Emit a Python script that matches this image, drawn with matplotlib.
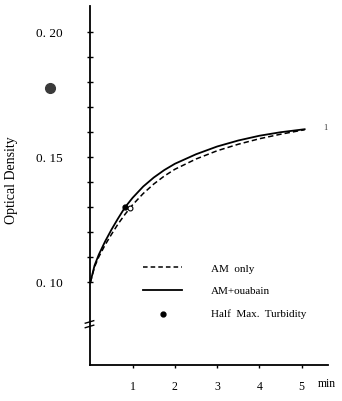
import matplotlib
matplotlib.use("Agg")
import matplotlib.pyplot as plt
from matplotlib.lines import Line2D

plt.rcParams['font.family'] = ['Liberation Serif', 'DejaVu Serif']

# Data
time_min = [0, 0.1, 0.2, 0.35, 0.5, 0.65, 0.82, 1.0, 1.25, 1.5, 1.75, 2.0,
            2.5, 3.0, 3.5, 4.0, 4.5, 5.07]
od_ouabain = [0.1000, 0.1068, 0.1111, 0.1164, 0.1211, 0.1254, 0.1300, 0.1338,
              0.1383, 0.1419, 0.1449, 0.1474, 0.1512, 0.1543, 0.1567, 0.1586,
              0.1600, 0.1612]
od_am_only = [0.1000, 0.1062, 0.1102, 0.1150, 0.1192, 0.1232, 0.1272, 0.1310,
              0.1355, 0.1393, 0.1425, 0.1452, 0.1493, 0.1526, 0.1552, 0.1574,
              0.1592, 0.1610]
half_max_solid = (0.82, 0.130)
half_max_open = (0.93, 0.1297)
yticks = [0.10, 0.11, 0.12, 0.13, 0.14, 0.15, 0.16, 0.17, 0.18, 0.19, 0.20]
ytick_labels = ['0. 10', '', '', '', '', '0. 15', '', '', '', '', '0. 20']
xticks = [1, 2, 3, 4, 5]
xtick_labels = ['1', '2', '3', '4', '5']
legend_labels = ['AM  only', 'AM+ouabain', 'Half  Max.  Turbidity']

fig = plt.figure(figsize=(3.42, 4.01), dpi=100)
ax = fig.add_axes([0.2617, 0.0898, 0.697, 0.895])
ax.set_xlim(-0.02, 5.62)
ax.set_ylim(0.067, 0.2104)

for s in ['top', 'right']:
    ax.spines[s].set_visible(False)
for s in ['left', 'bottom']:
    ax.spines[s].set_linewidth(1.3)

ax.plot(time_min, od_am_only, color='black', lw=1.1, ls=(0, (3.5, 2)))
ax.plot(time_min, od_ouabain, color='black', lw=1.3)
ax.plot(*half_max_solid, 'o', color='black', ms=3.5)
ax.plot(*half_max_open, 'o', mfc='white', mec='black', ms=3.5, mew=0.8)

ax.set_yticks(yticks)
ax.set_yticklabels(ytick_labels, fontsize=9.5)
ax.tick_params(axis='y', direction='inout', length=4, width=1, pad=17)
ax.set_xticks(xticks)
ax.set_xticklabels(xtick_labels, fontsize=8.5)
ax.tick_params(axis='x', direction='out', length=2.5, width=1, pad=9)
ax.text(5.59, 0.067 - 0.0074, 'min', fontsize=8.5, ha='center', va='center')

ax.set_ylabel('Optical Density', fontsize=10)
ax.yaxis.set_label_coords(-0.30, 0.515)

# axis break marks
yb = 0.0833
for dy in (-0.0009, 0.0009):
    ax.add_line(Line2D([-0.12, 0.08], [yb + dy - 0.0005, yb + dy + 0.0005],
                       color='black', lw=1, clip_on=False))

# manual legend
ax.plot([1.24, 2.16], [0.1062, 0.1062], color='black', lw=1.1, ls=(0, (3, 2)))
ax.plot([1.24, 2.16], [0.0970, 0.0970], color='black', lw=1.3)
ax.plot(1.71, 0.0872, 'o', color='black', ms=3.5)
for yy, lab in zip([0.1052, 0.0962, 0.0872], legend_labels):
    ax.text(2.85, yy, lab, fontsize=8, va='center', ha='left')

ax.text(5.55, 0.1615, '1', fontsize=6, va='center', ha='center', color='#333333')
# dark scan blot left of the axis
ax.plot(-0.955, 0.1776, 'o', color='#3a3a3a', ms=7, clip_on=False)

fig.savefig('out.png', dpi=100)
